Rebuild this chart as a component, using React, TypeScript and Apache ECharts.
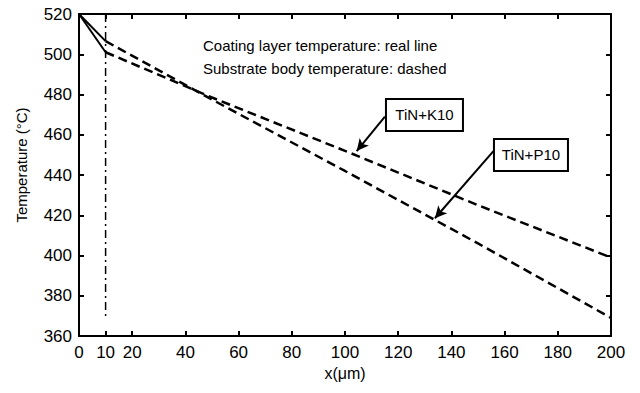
import { useEffect, useRef } from 'react';
import * as echarts from 'echarts';

// ---- data ----
const xTicks = [0, 10, 20, 40, 60, 80, 100, 120, 140, 160, 180, 200];
const coatingX = [0, 10];
const coatingK10 = [520, 501];
const coatingP10 = [520, 506.5];
const substrateX = [10, 50, 100, 150, 200];
const substrateK10 = [501, 478.5, 452, 425, 399];
const substrateP10 = [506.5, 477.5, 442, 406, 369];
const interfaceX = [10, 10];
const interfaceY = [520, 369];
const noteLines = ['Coating layer temperature: real line', 'Substrate body temperature: dashed'];
const boxLabels = ['TiN+K10', 'TiN+P10'];

// ---- annotation layout (data coordinates) ----
const arrowK10 = { from: [115, 469], to: [104.4, 451.9] };
const arrowP10 = { from: [155.8, 451.9], to: [133.8, 418.5] };
const boxK10 = { at: [115.4, 477.8], w: 77, h: 32 };
const boxP10 = { at: [156, 457.9], w: 74, h: 32 };

const FONT = 'Liberation Sans, Arial, Helvetica, sans-serif';

const zip = (xs: number[], ys: number[]) => xs.map((x, i) => [x, ys[i]]);

export default function App() {
  const ref = useRef<HTMLDivElement>(null);

  useEffect(() => {
    if (!ref.current) return;
    const chart = echarts.init(ref.current, undefined, { renderer: 'svg' });
    const axisLine = { show: true, onZero: false, lineStyle: { color: '#000', width: 2 } };
    const tick = (vals?: number[]) => ({
      show: true,
      inside: true,
      length: 5,
      lineStyle: { color: '#000', width: 2 },
      ...(vals ? { customValues: vals } : {}),
    });
    const solid = { color: '#000', width: 2, type: 'solid' as const };
    const dashed = { color: '#000', width: 2.5, type: [9, 5] as any };
    const arrowLine = (a: { from: number[]; to: number[] }) => [
      { coord: a.from, symbol: 'none' },
      { coord: a.to, symbol: 'arrow' },
    ];

    chart.setOption({
      animation: false,
      backgroundColor: '#fff',
      grid: { left: 79, top: 14, right: 29, bottom: 57, containLabel: false },
      xAxis: [
        {
          type: 'value',
          min: 0,
          max: 200,
          position: 'bottom',
          axisLine,
          axisTick: tick(xTicks),
          axisLabel: { customValues: xTicks, color: '#000', fontSize: 17, fontFamily: FONT, margin: 8 },
          splitLine: { show: false },
          name: 'x(\u03bcm)',
          nameLocation: 'middle',
          nameGap: 29,
          nameTextStyle: { color: '#000', fontSize: 16, fontFamily: FONT },
        },
        {
          type: 'value',
          min: 0,
          max: 200,
          position: 'top',
          axisLine,
          axisTick: tick(xTicks),
          axisLabel: { show: false },
          splitLine: { show: false },
        },
      ],
      yAxis: [
        {
          type: 'value',
          min: 360,
          max: 520,
          interval: 20,
          position: 'left',
          axisLine,
          axisTick: tick(),
          axisLabel: { color: '#000', fontSize: 17, fontFamily: FONT, margin: 7 },
          splitLine: { show: false },
          name: 'Temperature (\u00b0C)',
          nameLocation: 'middle',
          nameGap: 50,
          nameTextStyle: { color: '#000', fontSize: 15, fontFamily: FONT, padding: [0, 0, 0, 20] },
        },
        {
          type: 'value',
          min: 360,
          max: 520,
          interval: 20,
          position: 'right',
          axisLine,
          axisTick: tick(),
          axisLabel: { show: false },
          splitLine: { show: false },
        },
      ],
      series: [
        {
          type: 'line',
          name: 'Interface',
          data: zip(interfaceX, interfaceY),
          symbol: 'none',
          lineStyle: { color: '#000', width: 1.5, type: [8, 4, 2, 4] },
        },
        {
          type: 'line',
          name: 'Coating K10',
          data: zip(coatingX, coatingK10),
          symbol: 'none',
          lineStyle: solid,
        },
        {
          type: 'line',
          name: 'Coating P10',
          data: zip(coatingX, coatingP10),
          symbol: 'none',
          lineStyle: solid,
        },
        {
          type: 'line',
          name: 'Substrate K10',
          data: zip(substrateX, substrateK10),
          symbol: 'none',
          lineStyle: dashed,
          markLine: {
            silent: true,
            symbolSize: [9, 12],
            label: { show: false },
            lineStyle: { color: '#000', width: 2, type: 'solid' },
            data: [arrowLine(arrowK10)],
          },
        },
        {
          type: 'line',
          name: 'Substrate P10',
          data: zip(substrateX, substrateP10),
          symbol: 'none',
          lineStyle: dashed,
          markLine: {
            silent: true,
            symbolSize: [9, 12],
            label: { show: false },
            lineStyle: { color: '#000', width: 2, type: 'solid' },
            data: [arrowLine(arrowP10)],
          },
        },
      ],
    });

    const px = (p: number[]) => chart.convertToPixel({ gridIndex: 0 }, p) as number[];
    const box = (b: { at: number[]; w: number; h: number }, text: string) => {
      const [x, y] = px(b.at);
      return {
        type: 'group',
        x,
        y,
        children: [
          {
            type: 'rect',
            shape: { x: 0, y: 0, width: b.w, height: b.h },
            style: { fill: '#fff', stroke: '#000', lineWidth: 2 },
          },
          {
            type: 'text',
            x: b.w / 2,
            y: b.h / 2,
            style: {
              text,
              fill: '#000',
              font: `15px ${FONT}`,
              textAlign: 'center',
              textVerticalAlign: 'middle',
            },
          },
        ],
      };
    };
    const topLeft = px([0, 520]);
    const note = (i: number, dy: number) => ({
      type: 'text',
      x: topLeft[0] + 124,
      y: topLeft[1] + dy,
      style: {
        text: noteLines[i],
        fill: '#000',
        font: `15px ${FONT}`,
        textVerticalAlign: 'middle',
      },
    });
    chart.setOption({
      graphic: [note(0, 31), note(1, 54), box(boxK10, boxLabels[0]), box(boxP10, boxLabels[1])],
    });

    return () => chart.dispose();
  }, []);

  return <div ref={ref} style={{ position: 'fixed', left: 0, top: 0, width: 640, height: 393 }} />;
}
